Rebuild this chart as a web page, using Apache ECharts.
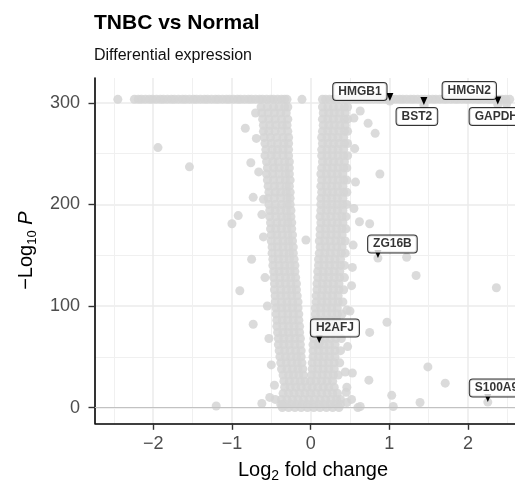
<!DOCTYPE html>
<html><head><meta charset="utf-8">
<script src="https://cdn.jsdelivr.net/npm/echarts@6/dist/echarts.min.js"></script>
<style>html,body{margin:0;padding:0;background:#fff}#c{width:515px;height:484px}</style>
</head><body><div id="c"></div>
<script>
const FONT = '"Liberation Sans", Arial, Helvetica, sans-serif';

// ---- tick values ----
const xMajorTicks = [-2, -1, 0, 1, 2];
const xMinorTicks = [-2.5, -1.5, -0.5, 0.5, 1.5, 2.5];
const yMajorTicks = [0, 100, 200, 300];
const yMinorTicks = [50, 150, 250];

// ---- capped -log10 P (p = 0) band ----
const capY = 303.5;
const bandLeftX = [-2.45,-2.24,-2.19,-2.15,-2.10,-2.05,-2.01,-1.96,-1.91,-1.87,-1.82,-1.77,-1.73,-1.68,-1.63,-1.59,-1.54,-1.49,-1.45,-1.40,-1.35,-1.31,-1.26,-1.21,-1.17,-1.12,-1.07,-1.03,-0.98,-0.93,-0.89,-0.84,-0.79,-0.75,-0.70,-0.65,-0.61,-0.56,-0.51,-0.47,-0.42,-0.37,-0.33,-0.30,-0.11];
const bandRightX = [0.15,0.19,0.24,0.29,0.33,0.38,0.43,0.47,0.52,0.57,0.61,0.66,0.71,0.75,0.80,0.85,0.89,0.94,0.99,1.03,1.08,1.13,1.17,1.22,1.27,1.31,1.36,1.41,1.45,1.50,1.55,1.59,1.64,1.69,1.73,1.78,1.83,1.87,1.92,1.97,2.01,2.06,2.11,2.15,2.20,2.25,2.29,2.34,2.39,2.43,2.48,2.53];

// ---- down-regulated arm: [ -log10P, log2FC values... ] ----
const leftArm = [
 [296,-0.63,-0.55,-0.47,-0.40,-0.33,-0.29],
 [290,-0.62,-0.54,-0.46,-0.38,-0.31],
 [284,-0.61,-0.53,-0.45,-0.37,-0.29],
 [278,-0.60,-0.52,-0.44,-0.36,-0.30],
 [272,-0.60,-0.53,-0.45,-0.37,-0.29],
 [266,-0.59,-0.51,-0.43,-0.35,-0.28],
 [260,-0.58,-0.50,-0.42,-0.34,-0.28],
 [254,-0.57,-0.49,-0.42,-0.35,-0.28],
 [248,-0.58,-0.50,-0.43,-0.35,-0.28],
 [242,-0.56,-0.48,-0.41,-0.33,-0.27],
 [236,-0.55,-0.47,-0.40,-0.33,-0.27],
 [230,-0.56,-0.48,-0.40,-0.32,-0.27],
 [224,-0.55,-0.47,-0.39,-0.32,-0.26],
 [218,-0.54,-0.46,-0.39,-0.31,-0.27],
 [212,-0.53,-0.45,-0.38,-0.31,-0.26],
 [206,-0.54,-0.46,-0.38,-0.30,-0.26],
 [200,-0.53,-0.45,-0.37,-0.30,-0.26],
 [194,-0.52,-0.45,-0.38,-0.31,-0.25],
 [188,-0.52,-0.44,-0.37,-0.30,-0.25],
 [182,-0.51,-0.43,-0.36,-0.29,-0.24],
 [176,-0.51,-0.44,-0.37,-0.30,-0.24],
 [170,-0.50,-0.43,-0.36,-0.29,-0.23],
 [164,-0.50,-0.42,-0.35,-0.28,-0.23],
 [158,-0.49,-0.42,-0.35,-0.28,-0.22],
 [152,-0.49,-0.41,-0.34,-0.27,-0.22],
 [146,-0.48,-0.41,-0.34,-0.27,-0.21],
 [140,-0.48,-0.40,-0.33,-0.26,-0.20],
 [134,-0.47,-0.40,-0.33,-0.26,-0.20],
 [128,-0.47,-0.39,-0.32,-0.25,-0.19],
 [122,-0.46,-0.39,-0.32,-0.25,-0.18],
 [116,-0.46,-0.38,-0.31,-0.24,-0.18],
 [110,-0.45,-0.38,-0.31,-0.24,-0.17],
 [104,-0.45,-0.37,-0.30,-0.23,-0.16],
 [98,-0.44,-0.37,-0.30,-0.23,-0.16],
 [92,-0.44,-0.36,-0.29,-0.22,-0.15],
 [86,-0.43,-0.36,-0.29,-0.22,-0.15],
 [80,-0.43,-0.35,-0.28,-0.21,-0.14],
 [74,-0.42,-0.35,-0.28,-0.21,-0.14],
 [68,-0.41,-0.34,-0.27,-0.20,-0.13],
 [62,-0.41,-0.34,-0.27,-0.20,-0.13],
 [56,-0.40,-0.33,-0.26,-0.19,-0.12],
 [50,-0.39,-0.32,-0.25,-0.18,-0.12],
 [44,-0.38,-0.31,-0.24,-0.17,-0.11],
 [38,-0.37,-0.30,-0.23,-0.16,-0.10],
 [32,-0.35,-0.28,-0.22,-0.15,-0.09],
 [26,-0.34,-0.27,-0.20,-0.13,-0.07]
];

// ---- up-regulated arm ----
const rightArm = [
 [296,0.15,0.22,0.29,0.36,0.43,0.47],
 [290,0.16,0.23,0.30,0.37,0.44],
 [284,0.15,0.22,0.29,0.36,0.43,0.47],
 [278,0.16,0.23,0.30,0.37,0.44],
 [272,0.15,0.22,0.29,0.36,0.43,0.47],
 [266,0.14,0.21,0.28,0.35,0.42],
 [260,0.15,0.22,0.29,0.36,0.43,0.47],
 [254,0.14,0.21,0.28,0.35,0.42],
 [248,0.14,0.21,0.28,0.35,0.42,0.47],
 [242,0.15,0.22,0.29,0.36,0.43],
 [236,0.14,0.21,0.28,0.35,0.42,0.46],
 [230,0.13,0.20,0.27,0.34,0.41],
 [224,0.14,0.21,0.28,0.35,0.42,0.46],
 [218,0.13,0.20,0.27,0.34,0.41],
 [212,0.14,0.21,0.28,0.35,0.42,0.46],
 [206,0.13,0.20,0.27,0.34,0.41],
 [200,0.13,0.20,0.27,0.34,0.41,0.46],
 [194,0.13,0.20,0.27,0.34,0.41],
 [188,0.12,0.19,0.26,0.33,0.40,0.45],
 [182,0.13,0.20,0.27,0.34,0.41],
 [176,0.12,0.19,0.26,0.33,0.40,0.45],
 [170,0.12,0.19,0.26,0.33,0.40],
 [164,0.11,0.18,0.25,0.32,0.39,0.44],
 [158,0.12,0.19,0.26,0.33,0.40],
 [152,0.11,0.18,0.25,0.32,0.39,0.44],
 [146,0.10,0.17,0.24,0.31,0.38],
 [140,0.10,0.17,0.24,0.31,0.38,0.43],
 [134,0.09,0.16,0.23,0.30,0.37],
 [128,0.09,0.16,0.23,0.30,0.37,0.43],
 [122,0.08,0.15,0.22,0.29,0.36],
 [116,0.08,0.15,0.22,0.29,0.36,0.42],
 [110,0.07,0.14,0.21,0.28,0.35],
 [104,0.07,0.14,0.21,0.28,0.35,0.41],
 [98,0.06,0.13,0.20,0.27,0.34],
 [92,0.06,0.13,0.20,0.27,0.34,0.40],
 [86,0.05,0.12,0.19,0.26,0.33],
 [80,0.05,0.12,0.19,0.26,0.33,0.40],
 [74,0.04,0.11,0.18,0.25,0.32],
 [68,0.04,0.11,0.18,0.25,0.32,0.39],
 [62,0.03,0.10,0.17,0.24,0.31],
 [56,0.03,0.10,0.17,0.24,0.31,0.38],
 [50,0.03,0.10,0.17,0.24,0.31],
 [44,0.02,0.09,0.16,0.23,0.30,0.37],
 [38,0.02,0.09,0.16,0.23,0.30],
 [32,0.01,0.08,0.15,0.22,0.29,0.35],
 [26,0.00,0.07,0.14,0.21,0.28]
];

// ---- non-significant base of the volcano ----
const baseRows = [
 [20,-0.33,-0.26,-0.19,-0.12,-0.05,0.02,0.09,0.16,0.23,0.30],
 [14,-0.35,-0.28,-0.21,-0.14,-0.07,0.00,0.07,0.14,0.21,0.28,0.34],
 [8,-0.37,-0.30,-0.23,-0.16,-0.09,-0.02,0.05,0.12,0.19,0.26,0.33,0.38],
 [3,-0.38,-0.31,-0.24,-0.17,-0.10,-0.03,0.04,0.11,0.18,0.25,0.32,0.38],
 [0,-0.36,-0.28,-0.20,-0.12,-0.04,0.04,0.12,0.20,0.28,0.36]
];

// ---- scattered genes ----
const scatteredX = [-1.94,-1.54,-0.83,-0.76,-0.73,-0.60,-0.92,-1.00,-0.75,-0.90,-0.73,-1.20,-0.36,-0.06,
 -0.70,-0.69,-0.66,-0.62,-0.60,-0.58,-0.55,-0.53,-0.50,-0.46,-0.52,-0.62,-0.45,
 0.63,0.73,0.82,0.88,0.75,0.62,1.22,1.34,2.36,0.97,0.75,1.49,1.71,0.74,1.39,1.05,0.60,0.46,1.03,0.63,
 0.55,0.56,0.57,0.55,0.54,0.52,0.50,0.47,0.44,0.45,0.52,0.53,0.46,0.53,0.46];
const scatteredY = [256,237,275,241,207,205,189,181,146,115,82,1.5,2.5,165,
 290,265,232,190,168,128,100,68,42,22,10,4,8,
 292,280,270,230,181,183,148,130,118,84,74,40,24,27,5,1,0,5,12,1,
 285,255,222,196,160,120,95,60,35,15,8,138,96,34,20];

// ---- labelled genes ----
const genes = ['HMGB1','HMGN2','BST2','GAPDH','ZG16B','H2AFJ','S100A9'];
const geneX = [1.007, 2.378, 1.439, 2.49, 0.855, 0.109, 2.251];
const geneY = [301.8, 298.3, 297.8, 298.8, 147.2, 63.2, 5.4];

// ---- presentation (pixel offsets / arrow visibility) ----
const labelLook = {
  HMGB1: {off: [-30, -9.5], arrow: true},
  HMGN2: {off: [-28.5, -14], arrow: true},
  BST2:  {off: [-7, 11.5], arrow: true},
  GAPDH: {off: [-10.3, 12.5], arrow: false},
  ZG16B: {off: [14.5, -14], arrow: true},
  H2AFJ: {off: [15.7, -15.3], arrow: true},
  S100A9:{off: [8.7, -14], arrow: true}
};

const points = [];
bandLeftX.forEach(x => points.push([x, capY]));
bandRightX.forEach(x => points.push([x, capY]));
[leftArm, rightArm, baseRows].forEach(rows => rows.forEach(r => {
  for (let i = 1; i < r.length; i++) points.push([r[i], r[0]]);
}));
scatteredX.forEach((x, i) => points.push([x, scatteredY[i]]));
genes.forEach((g, i) => points.push([geneX[i], geneY[i]]));

const arrowData = genes.map((g, i) => ({
  value: [geneX[i], geneY[i]],
  symbolSize: labelLook[g].arrow ? [7, 8] : 0
}));
const labelData = genes.map((g, i) => ({
  value: [geneX[i], geneY[i]],
  name: g,
  label: {offset: labelLook[g].off}
}));

const minusFmt = v => (v < 0 ? '\u2212' + Math.abs(v) : String(v));

const chart = echarts.init(document.getElementById('c'), null, {renderer: 'canvas'});
chart.setOption({
  animation: false,
  backgroundColor: '#fff',
  title: [
    {text: 'TNBC vs Normal', left: 89, top: 8,
     textStyle: {fontFamily: FONT, fontSize: 21, fontWeight: 'bold', color: '#000'}},
    {text: 'Differential expression', left: 89, top: 43,
     textStyle: {fontFamily: FONT, fontSize: 16, fontWeight: 'normal', color: '#111'}}
  ],
  grid: {left: 95, right: -16, top: 78, bottom: 60.7, containLabel: false, outerBoundsMode: 'none'},
  xAxis: [
    {type: 'value', min: -2.74, max: 2.80, position: 'bottom',
     name: '{t|Log}{s|2}{t| fold change}', nameLocation: 'middle', nameGap: 34,
     nameTextStyle: {rich: {
       t: {fontFamily: FONT, fontSize: 20, color: '#000', lineHeight: 26},
       s: {fontFamily: FONT, fontSize: 14, color: '#000', lineHeight: 14, verticalAlign: 'bottom'}
     }},
     axisLine: {show: true, onZero: false, lineStyle: {color: '#000', width: 1.6}},
     axisTick: {show: true, length: 6.5, lineStyle: {color: '#333', width: 1.4}, customValues: xMajorTicks},
     axisLabel: {customValues: xMajorTicks, margin: 12, formatter: minusFmt,
       fontFamily: FONT, fontSize: 18, color: '#4d4d4d'},
     splitLine: {show: true, lineStyle: {color: '#ebebeb', width: 1.5}},
     minorSplitLine: {show: false}
    },
    {type: 'value', min: -2.74, max: 2.80, position: 'top',
     axisLine: {show: false}, axisLabel: {show: false},
     axisTick: {show: false, customValues: xMinorTicks},
     splitLine: {show: true, lineStyle: {color: '#f0f0f0', width: 1.1}}
    }
  ],
  yAxis: [
    {type: 'value', min: -15.5, max: 324.5, position: 'left',
     name: '{t|\u2212Log}{s|10}{t| }{i|P}', nameLocation: 'middle', nameRotate: 90, nameGap: 56,
     nameTextStyle: {rich: {
       t: {fontFamily: FONT, fontSize: 20, color: '#000', lineHeight: 26},
       s: {fontFamily: FONT, fontSize: 13, color: '#000', lineHeight: 13, verticalAlign: 'bottom'},
       i: {fontFamily: FONT, fontSize: 20, color: '#000', lineHeight: 26, fontStyle: 'italic'}
     }},
     axisLine: {show: true, onZero: false, lineStyle: {color: '#000', width: 1.6}},
     axisTick: {show: true, length: 6.5, lineStyle: {color: '#333', width: 1.4}, customValues: yMajorTicks},
     axisLabel: {customValues: yMajorTicks, margin: 15,
       fontFamily: FONT, fontSize: 18, color: '#4d4d4d'},
     splitLine: {show: true, lineStyle: {color: '#ebebeb', width: 1.5}}
    },
    {type: 'value', min: -15.5, max: 324.5, position: 'right',
     axisLine: {show: false}, axisLabel: {show: false},
     axisTick: {show: false, customValues: yMinorTicks},
     splitLine: {show: true, lineStyle: {color: '#f0f0f0', width: 1.1}}
    }
  ],
  series: [
    {type: 'scatter', name: 'genes', xAxisIndex: 0, yAxisIndex: 0, data: points,
     symbol: 'circle', symbolSize: 9, z: 2, silent: true,
     itemStyle: {color: '#d5d5d5', opacity: 0.85},
     markLine: {silent: true, symbol: ['none', 'none'], label: {show: false},
       lineStyle: {color: '#c2c2c2', width: 1, type: 'solid'},
       data: [{yAxis: 0}]}
    },
    {type: 'scatter', name: 'arrows', data: arrowData, symbol: 'triangle',
     symbolRotate: 180, symbolOffset: [0, -4], z: 4, silent: true,
     itemStyle: {color: '#000', opacity: 1}},
    {type: 'scatter', name: 'labels', data: labelData, symbolSize: 1, z: 5, silent: true,
     itemStyle: {color: 'rgba(0,0,0,0)'},
     label: {show: true, position: 'inside', formatter: p => p.name,
       fontFamily: FONT, fontSize: 12, fontWeight: 'bold', color: '#000',
       backgroundColor: '#fff', borderColor: '#000', borderWidth: 1, borderRadius: 3,
       padding: [2, 5, 2, 5], lineHeight: 13}
    }
  ]
});
</script></body></html>
